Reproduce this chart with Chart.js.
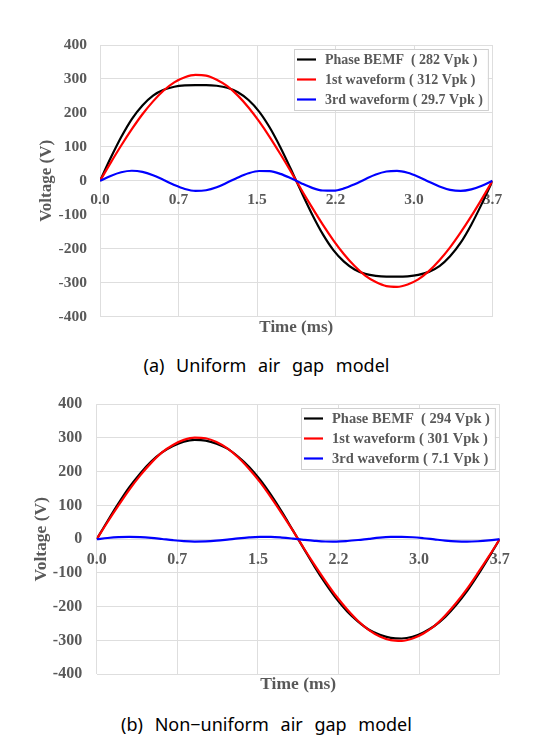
<!DOCTYPE html>
<html>
<head>
<meta charset="utf-8">
<script src="https://cdn.jsdelivr.net/npm/chart.js@4.4.1/dist/chart.umd.min.js"></script>
<style>
  html, body { margin: 0; padding: 0; background: #fff; width: 533px; height: 749px; overflow: hidden; }
  canvas { position: absolute; left: 0; }
  .cap { position: absolute; left: 0; width: 533px; text-align: center; font-family: "Noto Sans", sans-serif; font-size: 18px; color: #000; word-spacing: 7px; line-height: 20px; }
</style>
</head>
<body>
<canvas id="c1" width="533" height="345" style="top:0px;width:533px;height:345px"></canvas>
<div class="cap" style="top:355px">(a) Uniform air gap model</div>
<canvas id="c2" width="533" height="325" style="top:380px;width:533px;height:325px"></canvas>
<div class="cap" style="top:714px">(b) Non−uniform air gap model</div>
<script>
// ---- data (time in ms, voltage in V) ----
const timeMs = [0,0.1,0.2,0.3,0.4,0.5,0.6,0.7,0.8,0.9,1.0,1.1,1.2,1.3,1.4,1.5,1.6,1.7,1.8,1.9,2.0,2.1,2.2,2.3,2.4,2.5,2.6,2.7,2.8,2.9,3.0,3.1,3.2,3.3,3.4,3.5,3.6,3.7];
const xTickLabels = ['0.0','0.7','1.5','2.2','3.0','3.7'];
const yTickValues = [-400,-300,-200,-100,0,100,200,300,400];

// (a) Uniform air gap model
const uniformBEMF = [0,67,129,182,222,251,268,277,281,282,282,280,274,261,238,204,157,99,34,-34,-99,-157,-204,-238,-261,-274,-280,-282,-282,-281,-277,-268,-251,-222,-182,-129,-67,0];
const uniform1st  = [0,53,104,152,196,234,266,290,305,312,310,298,279,251,216,175,129,79,27,-27,-79,-129,-175,-216,-251,-279,-298,-310,-312,-305,-290,-266,-234,-196,-152,-104,-53,0];
const uniform3rd  = [0,14.5,25.3,29.7,26.5,16.6,2.5,-12.2,-23.9,-29.5,-27.6,-18.7,-5.0,9.9,22.3,29.0,28.4,20.6,7.5,-7.5,-20.6,-28.4,-29.0,-22.3,-9.9,5.0,18.7,27.6,29.5,23.9,12.2,-2.5,-16.6,-26.5,-29.7,-25.3,-14.5,0];
const uniformLabels = ['Phase BEMF  ( 282 Vpk )','1st waveform ( 312 Vpk )','3rd waveform ( 29.7 Vpk )'];

// (b) Non-uniform air gap model
const nonuniformBEMF = [0,54,106,154,195,230,257,276,289,294,292,283,268,244,214,176,131,81,27,-27,-81,-131,-176,-214,-244,-268,-283,-292,-294,-289,-276,-257,-230,-195,-154,-106,-54,0];
const nonuniform1st  = [0,51,100,147,189,226,257,279,294,301,299,288,269,242,208,169,124,76,26,-26,-76,-124,-169,-208,-242,-269,-288,-299,-301,-294,-279,-257,-226,-189,-147,-100,-51,0];
const nonuniform3rd  = [0,3.5,6.0,7.1,6.3,4.0,0.6,-2.9,-5.7,-7.0,-6.6,-4.5,-1.2,2.4,5.3,6.9,6.8,4.9,1.8,-1.8,-4.9,-6.8,-6.9,-5.3,-2.4,1.2,4.5,6.6,7.0,5.7,2.9,-0.6,-4.0,-6.3,-7.1,-6.0,-3.5,0];
const nonuniformLabels = ['Phase BEMF  ( 294 Vpk )','1st waveform ( 301 Vpk )','3rd waveform ( 7.1 Vpk )'];

const seriesColors = ['#000000','#ff0000','#0000ff'];
const GRID = '#dedede';
const TXT = '#595959';
const SERIF = '"Liberation Serif", "Times New Roman", serif';

const toXY = arr => arr.map((v, i) => ({x: timeMs[i], y: v}));

const boxLegend = {
  id: 'boxLegend',
  afterDatasetsDraw(chart, args, opts) {
    const ctx = chart.ctx, ca = chart.chartArea;
    ctx.save();
    ctx.font = 'bold ' + opts.fontSize + 'px ' + SERIF;
    const ds = chart.data.datasets.slice().sort((a, b) => a.legendIndex - b.legendIndex);
    const tw = Math.max(...ds.map(d => ctx.measureText(d.label).width));
    const w = tw + 36, h = 61;
    const x0 = Math.round(ca.right - 5 - w), y0 = Math.round(ca.top + 4);
    ctx.fillStyle = '#fff';
    ctx.fillRect(x0, y0, w, h);
    ctx.strokeStyle = '#d0d0d0';
    ctx.lineWidth = 1;
    ctx.strokeRect(x0 + 0.5, y0 + 0.5, w, h);
    ds.forEach((d, i) => {
      const y = y0 + 10.5 + 20 * i;
      ctx.strokeStyle = d.borderColor;
      ctx.lineWidth = 2.2;
      ctx.beginPath(); ctx.moveTo(x0 + 3, y); ctx.lineTo(x0 + 22, y); ctx.stroke();
      ctx.fillStyle = TXT;
      ctx.textBaseline = 'middle';
      ctx.textAlign = 'left';
      ctx.fillText(d.label, x0 + 31, y + 0.5);
    });
    ctx.restore();
  }
};

function makeChart(id, series, labels, L) {
  const datasets = series.map((s, i) => ({
    label: labels[i],
    legendIndex: i,
    data: toXY(s),
    borderColor: seriesColors[i],
    backgroundColor: seriesColors[i],
    borderWidth: 2.2,
    pointRadius: 0,
    cubicInterpolationMode: 'monotone',
    fill: false,
    order: 3 - i,
    xAxisID: 'x',
    yAxisID: 'y'
  }));
  return new Chart(document.getElementById(id), {
    type: 'line',
    data: { datasets },
    plugins: [boxLegend],
    options: {
      responsive: false,
      animation: false,
      devicePixelRatio: 1,
      layout: { padding: { left: L.padLeft, right: L.padRight, top: L.padTop, bottom: L.padBottom } },
      plugins: {
        legend: { display: false },
        tooltip: { enabled: false },
        boxLegend: { fontSize: L.legendFont }
      },
      scales: {
        x: {
          type: 'linear', position: 'bottom', min: 0, max: 3.7,
          ticks: { count: xTickLabels.length, display: false },
          grid: { color: GRID, drawTicks: false, lineWidth: 1 },
          border: { display: false },
          title: { display: true, text: 'Time (ms)', color: TXT, font: { family: SERIF, size: L.titleFont, weight: 'bold' }, padding: { top: 4, bottom: 4 } },
          afterFit: s => { s.height = 25; }
        },
        x2: {
          type: 'linear', axis: 'x', position: { y: 0 }, min: 0, max: 3.7,
          ticks: {
            count: xTickLabels.length, autoSkip: false, maxRotation: 0,
            padding: L.xTickPad, color: TXT,
            font: { family: SERIF, size: L.tickFont, weight: 'bold' },
            callback: (v, i) => xTickLabels[i]
          },
          grid: { display: false, drawTicks: false },
          border: { display: false },
          afterFit: s => { s.height = 0; }
        },
        y: {
          type: 'linear', position: 'left', min: -400, max: 400,
          afterBuildTicks: s => { s.ticks = yTickValues.map(v => ({ value: v })); },
          ticks: {
            autoSkip: false, padding: L.yTickPad, color: TXT,
            font: { family: SERIF, size: L.tickFont, weight: 'bold' },
            callback: v => String(v)
          },
          grid: { color: GRID, drawTicks: false, lineWidth: 1 },
          border: { display: false },
          title: { display: true, text: 'Voltage (V)', color: TXT, font: { family: SERIF, size: L.titleFont, weight: 'bold' }, padding: { top: 4, bottom: 4 } },
          afterFit: s => { s.width = L.yWidth; }
        }
      }
    }
  });
}

makeChart('c1', [uniformBEMF, uniform1st, uniform3rd], uniformLabels,
  { padLeft: 32, padRight: 40.5, padTop: 45, padBottom: 3.3, yWidth: 68, yTickPad: 13, xTickPad: 10, tickFont: 15.5, titleFont: 17, legendFont: 14 });
makeChart('c2', [nonuniformBEMF, nonuniform1st, nonuniform3rd], nonuniformLabels,
  { padLeft: 27, padRight: 33.3, padTop: 19, padBottom: 5.7, yWidth: 69.7, yTickPad: 14.5, xTickPad: 11, tickFont: 16, titleFont: 17.5, legendFont: 14.5 });
</script>
</body>
</html>
